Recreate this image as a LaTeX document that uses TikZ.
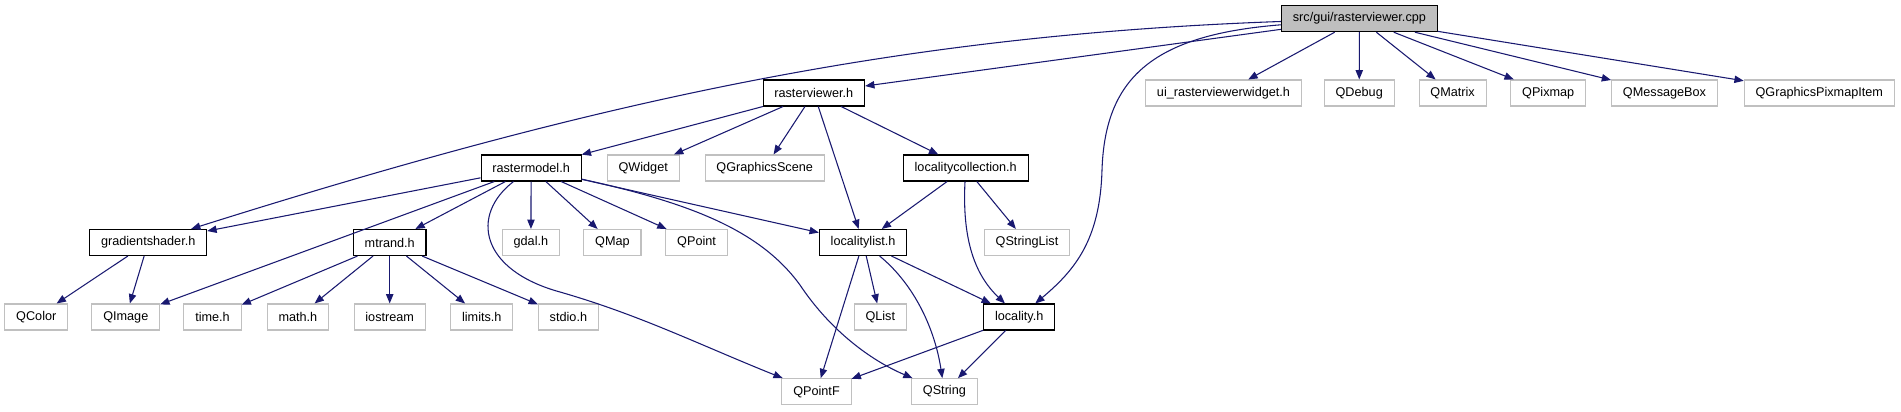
\documentclass[tikz,border=0pt]{standalone}
\usepackage{xcolor}
\usepackage{tikz}
\usepackage{fontspec}
\setmainfont{Liberation Sans}
\usetikzlibrary{arrows.meta, positioning, calc}
\definecolor{edgeblue}{HTML}{191970}
\definecolor{extgray}{HTML}{C0C0C0}
\definecolor{rootgray}{HTML}{BFBFBF}
\tikzstyle{arrow} = [draw=edgeblue, line width=0.8pt, -{Stealth[inset=0pt, length=7pt, width=5.5pt]}]

\begin{document}
\begin{tikzpicture}[
    x=0.75pt, y=-0.75pt,
    box/.style={rectangle, draw=black, line width=0.8pt, fill=white, inner xsep=8.5pt, inner ysep=0pt, minimum height=19.5pt, font=\fontsize{9.5}{11}\selectfont},
    extbox/.style={box, draw=extgray},
    rootbox/.style={box, fill=rootgray}
]
    \useasboundingbox (0,0) rectangle (1901,411);

    \node[rootbox] (rootcpp) at (1359.4,18.7) {src/gui/rasterviewer.cpp};

    \node[box] (rviewer) at (813.8,93) {rasterviewer.h};
    \node[extbox] (uiwidget) at (1223.5,93) {ui\_rasterviewerwidget.h};
    \node[extbox] (qdebug) at (1359.2,93) {QDebug};
    \node[extbox] (qmatrix) at (1452.6,93) {QMatrix};
    \node[extbox] (qpixmap) at (1548.2,93) {QPixmap};
    \node[extbox] (qmsgbox) at (1664.5,93) {QMessageBox};
    \node[extbox] (qgpixitem) at (1819.3,93) {QGraphicsPixmapItem};

    \node[box] (rmodel) at (531.1,168) {rastermodel.h};
    \node[extbox] (qwidget) at (643.2,168) {QWidget};
    \node[extbox] (qgscene) at (764.7,168) {QGraphicsScene};
    \node[box] (loccoll) at (965.7,168) {localitycollection.h};

    \node[box] (gradshader) at (148.2,242.5) {gradientshader.h};
    \node[box] (mtrand) at (389.7,242.5) {mtrand.h};
    \node[extbox] (gdal) at (530.9,242.5) {gdal.h};
    \node[extbox] (qmap) at (612.4,242.5) {QMap};
    \node[extbox] (qpoint) at (696.6,242.5) {QPoint};
    \node[box] (loclist) at (863.1,242.5) {localitylist.h};
    \node[extbox] (qstrlist) at (1027,242.5) {QStringList};

    \node[extbox] (qcolor) at (36.3,317) {QColor};
    \node[extbox] (qimage) at (125.8,317) {QImage};
    \node[extbox] (timeh) at (212.5,317) {time.h};
    \node[extbox] (mathh) at (297.9,317) {math.h};
    \node[extbox] (iostream) at (389.7,317) {iostream};
    \node[extbox] (limitsh) at (481.8,317) {limits.h};
    \node[extbox] (stdioh) at (568.4,317) {stdio.h};
    \node[extbox] (qlist) at (880.3,317) {QList};
    \node[box] (locality) at (1019.2,317) {locality.h};

    \node[extbox] (qpointf) at (816.5,391.7) {QPointF};
    \node[extbox] (qstring) at (944.4,391.7) {QString};

    \draw[arrow] (rootcpp) -- (rviewer);
    \draw[arrow] (rootcpp) .. controls (900,35) and (600,100) .. (gradshader);
    \draw[arrow] (rootcpp) .. controls (1150,35) and (1105,80) .. (1102,170) .. controls (1100,240) and (1075,270) .. (locality);
    \draw[arrow] (rootcpp) -- (uiwidget);
    \draw[arrow] (rootcpp) -- (qdebug);
    \draw[arrow] (rootcpp) -- (qmatrix);
    \draw[arrow] (rootcpp) -- (qpixmap);
    \draw[arrow] (rootcpp) -- (qmsgbox);
    \draw[arrow] (rootcpp) -- (qgpixitem);

    \draw[arrow] (rviewer) -- (rmodel);
    \draw[arrow] (rviewer) -- (qwidget);
    \draw[arrow] (rviewer) -- (qgscene);
    \draw[arrow] (rviewer) -- (loccoll);
    \draw[arrow] (rviewer) -- (loclist);

    \draw[arrow] (rmodel) -- (gradshader);
    \draw[arrow] (rmodel) -- (qimage);
    \draw[arrow] (rmodel) -- (mtrand);
    \draw[arrow] (rmodel) .. controls (470,215) and (480,270) .. (560,292) .. controls (640,315) and (700,345) .. (qpointf);
    \draw[arrow] (rmodel) -- (gdal);
    \draw[arrow] (rmodel) -- (qmap);
    \draw[arrow] (rmodel) -- (qpoint);
    \draw[arrow] (rmodel) -- (loclist);
    \draw[arrow] (rmodel) .. controls (690,203) and (760,230) .. (800,285) .. controls (830,330) and (870,360) .. (qstring);

    \draw[arrow] (loccoll) -- (loclist);
    \draw[arrow] (loccoll) -- (qstrlist);
    \draw[arrow] (loccoll) .. controls (962,240) and (975,275) .. (locality);

    \draw[arrow] (gradshader) -- (qcolor);
    \draw[arrow] (gradshader) -- (qimage);

    \draw[arrow] (mtrand) -- (timeh);
    \draw[arrow] (mtrand) -- (mathh);
    \draw[arrow] (mtrand) -- (iostream);
    \draw[arrow] (mtrand) -- (limitsh);
    \draw[arrow] (mtrand) -- (stdioh);

    \draw[arrow] (loclist) -- (qpointf);
    \draw[arrow] (loclist) -- (qlist);
    \draw[arrow] (loclist) .. controls (915,285) and (935,330) .. (qstring);
    \draw[arrow] (loclist) -- (locality);

    \draw[arrow] (locality) -- (qpointf);
    \draw[arrow] (locality) -- (qstring);
\end{tikzpicture}
\end{document}
